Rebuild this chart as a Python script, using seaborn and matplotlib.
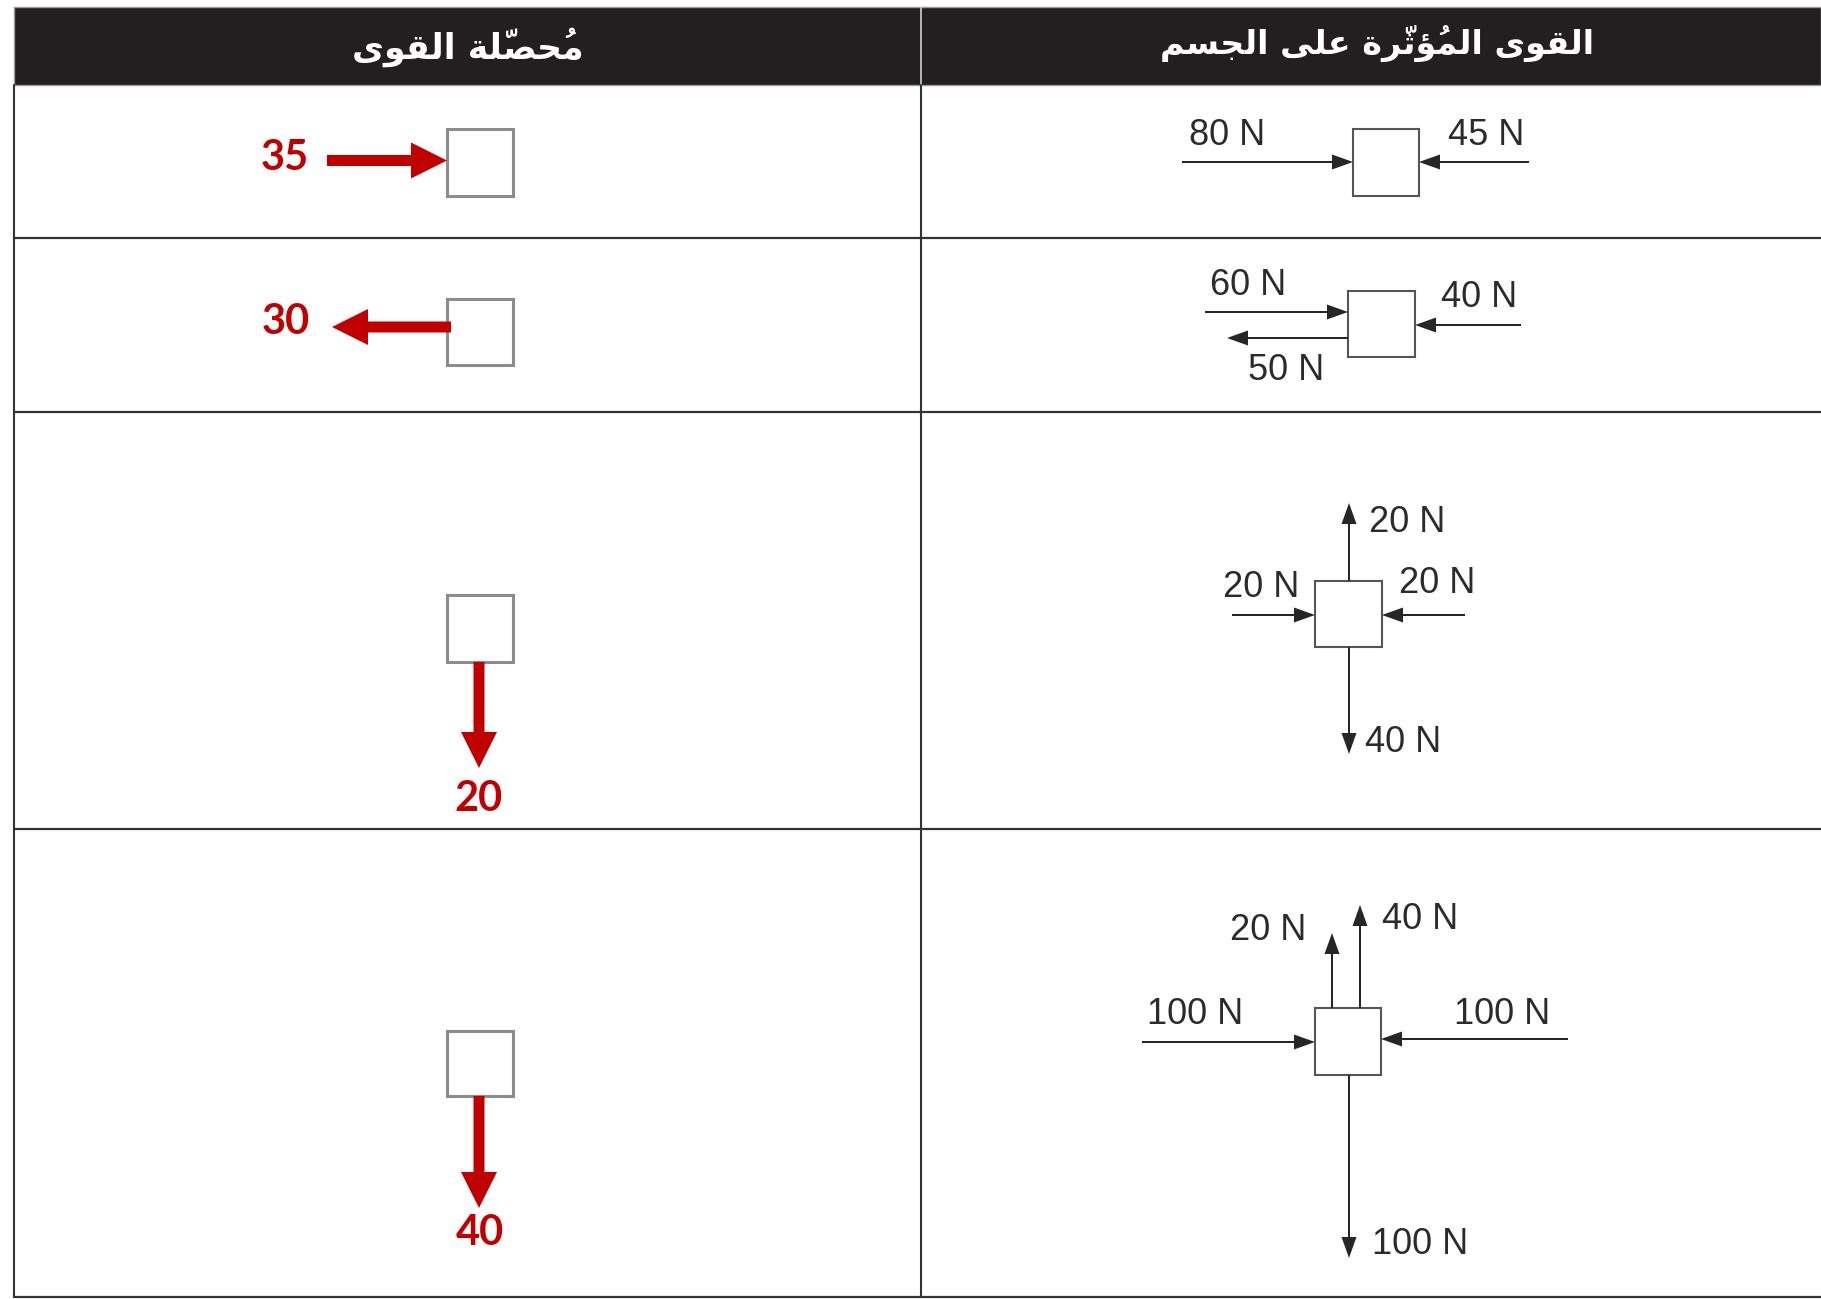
import matplotlib
matplotlib.use("Agg")
import matplotlib.pyplot as plt
import matplotlib.patches as mpatches
import seaborn as sns

# region Data
headers = ["مُحصّلة القوى", "القوى المُؤثّرة على الجسم"]
resultant_values = [35, 30, 20, 40]
resultant_dirs = ["right", "left", "down", "down"]

row1_forces = [80, 45]
row2_forces = [60, 50, 40]
row3_forces = [20, 20, 20, 40]
row4_forces = [20, 40, 100, 100, 100]
# endregion

# Arabic presentation forms: (isolated, final, initial, medial)
ARABIC_FORMS = {
    "ا": ("\uFE8D", "\uFE8E", None, None),
    "ل": ("\uFEDD", "\uFEDE", "\uFEDF", "\uFEE0"),
    "ق": ("\uFED5", "\uFED6", "\uFED7", "\uFED8"),
    "و": ("\uFEED", "\uFEEE", None, None),
    "ى": ("\uFEEF", "\uFEF0", None, None),
    "م": ("\uFEE1", "\uFEE2", "\uFEE3", "\uFEE4"),
    "ؤ": ("\uFE85", "\uFE86", None, None),
    "ث": ("\uFE99", "\uFE9A", "\uFE9B", "\uFE9C"),
    "ر": ("\uFEAD", "\uFEAE", None, None),
    "ة": ("\uFE93", "\uFE94", None, None),
    "ع": ("\uFEC9", "\uFECA", "\uFECB", "\uFECC"),
    "ج": ("\uFE9D", "\uFE9E", "\uFE9F", "\uFEA0"),
    "س": ("\uFEB1", "\uFEB2", "\uFEB3", "\uFEB4"),
    "ح": ("\uFEA1", "\uFEA2", "\uFEA3", "\uFEA4"),
    "ص": ("\uFEB9", "\uFEBA", "\uFEBB", "\uFEBC"),
}
MARKS = set("\u064B\u064C\u064D\u064E\u064F\u0650\u0651\u0652")


def shape_rtl(text):
    """Join Arabic letters by hand and put them in visual (left to right) order."""
    clusters = []
    n = len(text)
    for i, ch in enumerate(text):
        if ch in MARKS:
            if clusters:
                clusters[-1][1].append(ch)
            continue
        if ch not in ARABIC_FORMS:
            clusters.append([ch, []])
            continue
        j = i - 1
        while j >= 0 and text[j] in MARKS:
            j -= 1
        prev_joins = j >= 0 and text[j] in ARABIC_FORMS and ARABIC_FORMS[text[j]][2] is not None
        k = i + 1
        while k < n and text[k] in MARKS:
            k += 1
        forms = ARABIC_FORMS[ch]
        next_joins = k < n and text[k] in ARABIC_FORMS and forms[2] is not None
        if prev_joins and next_joins:
            g = forms[3]
        elif next_joins:
            g = forms[2]
        elif prev_joins:
            g = forms[1]
        else:
            g = forms[0]
        clusters.append([g, []])
    # marks have no advance and draw to the right of the pen, so they go before their letter
    return "".join("".join(m) + g for g, m in reversed(clusters))


sns.set_theme(style="white")
plt.rcParams["font.family"] = ["Liberation Sans", "DejaVu Sans"]

W, H = 1821, 1299
fig = plt.figure(figsize=(W / 100, H / 100), dpi=100)
ax = fig.add_axes([0, 0, 1, 1])
ax.set_xlim(0, W)
ax.set_ylim(H, 0)
ax.axis("off")

# table frame
line_c = "#333333"
ax.add_patch(mpatches.Rectangle((14, 7), W - 14, 78, facecolor="#231f20", edgecolor="#9a9a9a", lw=1))
ax.plot([921, 921], [7, 85], color="#cfcfcf", lw=1.2)
ax.plot([921, 921], [85, 1297], color=line_c, lw=1.5)
ax.plot([14, 14], [85, 1297], color=line_c, lw=1.5)
for y in [238, 412, 829, 1297]:
    ax.plot([14, W], [y, y], color=line_c, lw=1.6)

ax.text(468, 47, shape_rtl(headers[0]), color="white", fontsize=25, fontweight="bold",
        family="DejaVu Sans", ha="center", va="center")
ax.text(1377, 43, shape_rtl(headers[1]), color="white", fontsize=24, fontweight="bold",
        family="DejaVu Sans", ha="center", va="center")

# right column: forces acting on the body
ink = "#262626"


def box(x0, y0, x1, y1, ec="#555555", lw=1.5):
    ax.add_patch(mpatches.Rectangle((x0, y0), x1 - x0, y1 - y0, facecolor="white", edgecolor=ec, lw=lw, zorder=3))


def force(x0, y0, x1, y1):
    ax.arrow(x0, y0, x1 - x0, y1 - y0, width=2, head_width=15, head_length=21,
             length_includes_head=True, color=ink, lw=0, zorder=4)


def label(x, y, v):
    ax.text(x, y, f"{v} N", fontsize=26, color="#2b2b2b", ha="center", va="center")


# row 1
box(1353, 129, 1419, 196)
force(1182, 162, 1353, 162)
force(1529, 162, 1419, 162)
label(1227, 135, row1_forces[0])
label(1486, 135, row1_forces[1])

# row 2
box(1348, 291, 1415, 357)
force(1205, 312, 1348, 312)
force(1348, 338, 1227, 338)
force(1521, 325, 1415, 325)
label(1248, 285, row2_forces[0])
label(1286, 370, row2_forces[1])
label(1479, 297, row2_forces[2])

# row 3
box(1315, 581, 1382, 647)
force(1349, 581, 1349, 503)
force(1232, 615, 1315, 615)
force(1465, 615, 1382, 615)
force(1349, 647, 1349, 754)
label(1407, 522, row3_forces[0])
label(1261, 587, row3_forces[1])
label(1437, 583, row3_forces[2])
label(1403, 742, row3_forces[3])

# row 4
box(1315, 1008, 1381, 1075)
force(1332, 1008, 1332, 933)
force(1360, 1008, 1360, 905)
force(1142, 1042, 1315, 1042)
force(1568, 1039, 1381, 1039)
force(1349, 1075, 1349, 1258)
label(1268, 930, row4_forces[0])
label(1420, 919, row4_forces[1])
label(1195, 1015, row4_forces[2])
label(1502, 1015, row4_forces[3])
label(1420, 1244, row4_forces[4])

# left column: resultant force
red = "#c00000"
res_boxes = [(447, 129, 513, 196), (447, 299, 513, 365), (447, 595, 513, 662), (447, 1031, 513, 1096)]
res_text_pos = [(285, 158), (286, 322), (479, 799), (480, 1233)]
arrow_len = 120
for (x0, y0, x1, y1), d, v, (tx, ty) in zip(res_boxes, resultant_dirs, resultant_values, res_text_pos):
    box(x0, y0, x1, y1, ec="#8c8c8c", lw=2.2)
    yc = (y0 + y1) / 2
    xc = (x0 + x1) / 2
    if d == "right":
        sx, sy, dx, dy = x0 - arrow_len, yc - 2, arrow_len, 0
    elif d == "left":
        sx, sy, dx, dy = x0 + 4, yc - 5, -arrow_len + 1, 0
    else:
        sx, sy, dx, dy = xc - 1, y1, 0, 106 if v == 20 else 112
    ax.arrow(sx, sy, dx, dy, width=11, head_width=36, head_length=36,
             length_includes_head=True, color=red, lw=0, zorder=5)
    ax.text(tx, ty, str(v), color=red, fontsize=30, fontweight="bold", family="Lato",
            ha="center", va="center")

fig.savefig("out.png", dpi=100, facecolor="white")
